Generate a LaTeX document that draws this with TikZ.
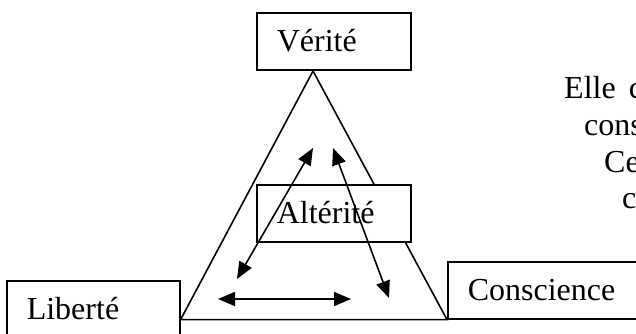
\documentclass[tikz,border=0pt]{standalone}
\usepackage{fontspec}
\setmainfont{Liberation Serif}
\usetikzlibrary{arrows.meta}

\begin{document}
\begin{tikzpicture}[x=1pt,y=1pt,>={Triangle[length=17pt,width=14pt]},
  font=\fontsize{32pt}{36pt}\selectfont,
  box/.style={draw,fill=white,line width=1.6pt,anchor=north west,
    inner xsep=20pt,inner ysep=0pt,minimum height=57pt,
    text height=24pt,text depth=4pt,align=left},
  link/.style={<->,line width=1.6pt}]
  \useasboundingbox (0,0) rectangle (636,333);
  % corner boxes
  \node[box,text width=114pt] (verite) at (256,321) {Vérité};
  \node[box,text width=133pt] (liberte) at (6,53) {Liberté};
  \node[box,text width=160pt] (conscience) at (447,72) {Conscience};
  % triangle, base runs into the bottom of the right box
  \coordinate (top) at (313,262);
  \coordinate (left) at (liberte.east |- conscience.south west);
  \draw[line width=1.6pt] (top) -- (left) -- (conscience.south west) -- cycle;
  % middle box sits on top of the right side
  \node[box,text width=114pt] (alterite) at (256,149) {Altérité};
  % double arrows inside the triangle
  \coordinate (a1) at (237,54);  \coordinate (a2) at (313,185);
  \coordinate (b1) at (333,185); \coordinate (b2) at (389,35);
  \coordinate (c1) at (218,34);  \coordinate (c2) at (351,34);
  \draw[link] (a1) -- (a2);
  \draw[link] (b1) -- (b2);
  \draw[link] (c1) -- (c2);
  % text on the right, running off the edge
  \node[anchor=base west,inner sep=0pt] (elle) at (564,235) {Elle\hspace{13pt}c};
  \node[anchor=base west,inner sep=0pt] (cons) at (584,198) {cons};
  \node[anchor=base west,inner sep=0pt] (cela) at (604,161) {Ce};
  \node[anchor=base west,inner sep=0pt] (last) at (622,125) {c};
\end{tikzpicture}
\end{document}
